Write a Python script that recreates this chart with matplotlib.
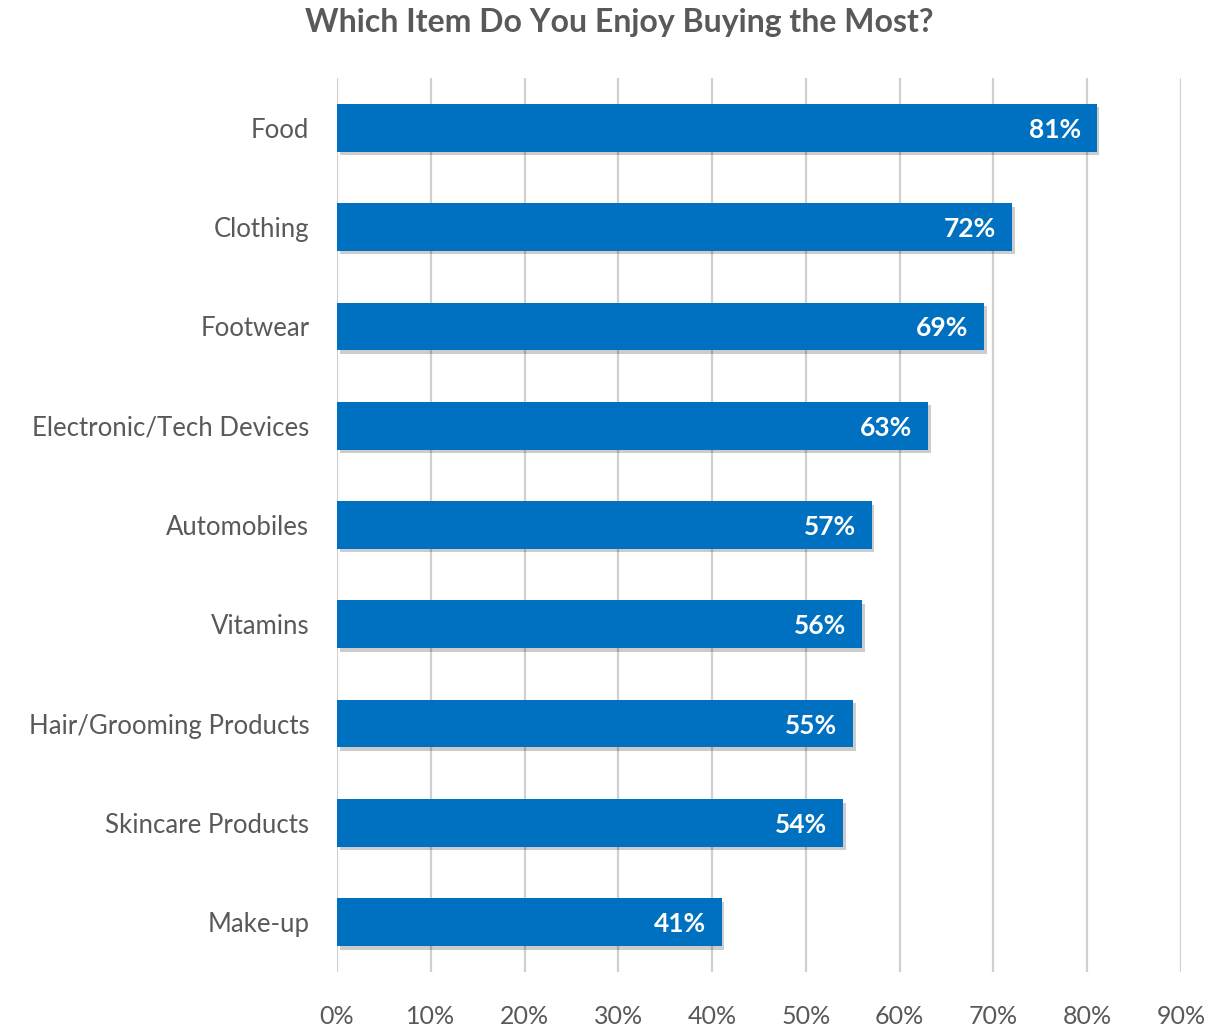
import matplotlib
matplotlib.use("Agg")
import matplotlib.pyplot as plt
import matplotlib.patheffects as pe
import numpy as np

# survey results, top to bottom
categories = ["Food", "Clothing", "Footwear", "Electronic/Tech Devices", "Automobiles",
              "Vitamins", "Hair/Grooming Products", "Skincare Products", "Make-up"]
values = [81, 72, 69, 63, 57, 56, 55, 54, 41]
xticks = [0, 10, 20, 30, 40, 50, 60, 70, 80, 90]

grey = "#595959"
blue = "#0070C0"
plt.rcParams["font.family"] = ["Lato", "DejaVu Sans"]

fig = plt.figure(figsize=(12.27, 10.28), dpi=100)
ax = fig.add_axes([0.2747, 0.0545, 0.6878, 0.8696])

y = np.arange(len(categories))
bars = ax.barh(y, values, height=0.48, color=blue, zorder=3)
for b in bars:
    b.set_path_effects([pe.SimplePatchShadow(offset=(2, -2.5), shadow_rgbFace="#000000", alpha=0.2),
                        pe.Normal()])

for yi, v in zip(y, values):
    ax.text(v - 1.7, yi + 0.02, f"{v}%", color="white", fontsize=19, fontweight="bold",
            ha="right", va="center", zorder=4)

ax.set_xlim(0, 90)
ax.set_ylim(len(categories) - 0.5, -0.5)
ax.set_xticks(xticks)
ax.set_xticklabels([f"{t}%" for t in xticks])
ax.set_yticks(y)
ax.set_yticklabels(categories)
ax.tick_params(axis="both", length=0, colors=grey)
ax.tick_params(axis="y", pad=20, labelsize=18.5)
ax.tick_params(axis="x", pad=24, labelsize=18)
ax.xaxis.grid(True, color="#d0d0d0", linewidth=1.6, zorder=0)
for s in ax.spines.values():
    s.set_visible(False)

fig.text(0.505, 0.978, "Which Item Do You Enjoy Buying the Most?", ha="center", va="center",
         fontsize=23, fontweight="bold", color=grey)

fig.savefig("out.png", dpi=100)
